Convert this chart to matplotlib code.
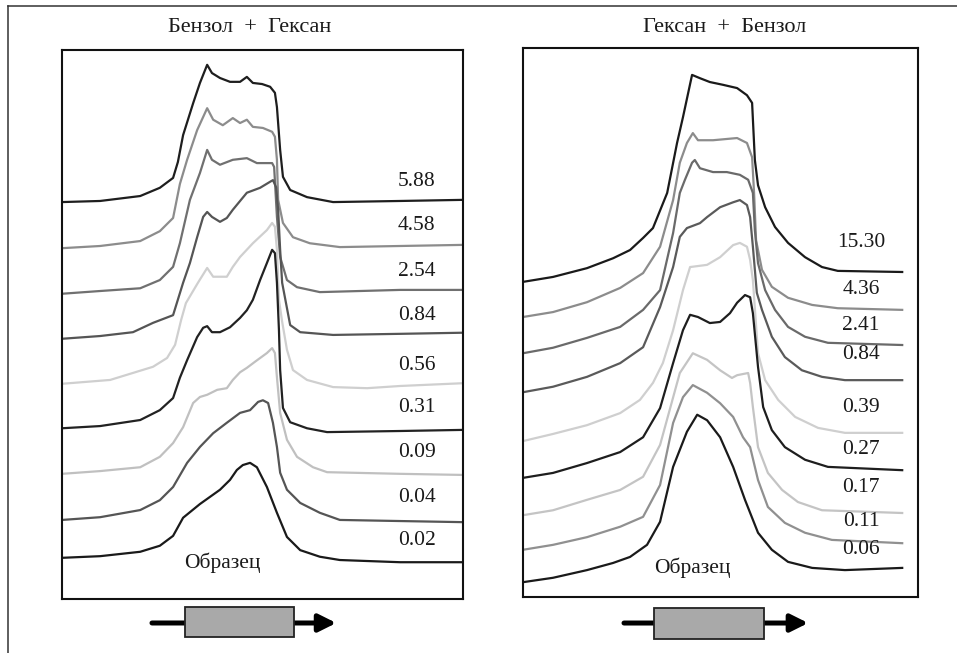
import matplotlib
matplotlib.use('Agg')
import matplotlib.pyplot as plt
from matplotlib.patches import Rectangle
from matplotlib.lines import Line2D

plt.rcParams['font.family'] = ['Liberation Serif', 'DejaVu Serif']

# left panel: Бензол + Гексан (position in % of window, signal in arbitrary units)
esq_x = [
    [0, 9.5, 19.5, 24.4, 27.7, 28.9, 30.2, 32.7, 34.4, 36.2, 37.4, 39.4, 41.9, 44.4, 46.1, 47.6, 49.9, 51.9, 53.1, 53.6, 54.4, 55.1, 56.9, 61.1, 67.6, 84.3, 99.8],
    [0, 9.5, 19.5, 24.4, 27.7, 29.4, 31.2, 33.7, 36.2, 37.7, 40.1, 42.6, 44.4, 46.1, 47.6, 50.1, 52.4, 53.1, 53.6, 53.9, 55.1, 57.6, 61.8, 69.3, 84.3, 99.8],
    [0, 9.5, 19.5, 24.4, 27.7, 29.4, 31.9, 34.4, 36.2, 37.4, 39.4, 42.6, 46.1, 48.6, 52.4, 52.9, 53.6, 54.4, 56.1, 58.6, 64.3, 84.3, 99.8],
    [0, 9.5, 17.7, 22.7, 27.7, 30.2, 31.9, 33.7, 35.2, 36.2, 37.4, 39.4, 41.1, 42.6, 46.1, 49.4, 51.9, 52.6, 53.4, 53.9, 54.4, 54.9, 56.9, 59.4, 67.6, 84.3, 99.8],
    [0, 12.0, 22.7, 26.2, 28.2, 29.7, 30.9, 33.9, 36.2, 37.7, 41.1, 42.6, 44.4, 47.6, 51.1, 52.4, 53.1, 53.6, 54.1, 54.9, 56.1, 57.6, 61.1, 67.6, 76.1, 84.3, 99.8],
    [0, 9.5, 19.5, 24.4, 27.7, 29.4, 31.2, 33.7, 35.2, 36.2, 37.4, 39.4, 41.9, 44.4, 46.1, 47.6, 49.4, 51.1, 52.4, 53.1, 53.6, 54.1, 54.4, 55.1, 56.9, 61.1, 66.1, 84.3, 99.8],
    [0, 9.5, 19.5, 24.4, 27.7, 30.2, 32.7, 34.4, 36.2, 38.7, 41.1, 42.6, 44.4, 46.1, 48.1, 51.1, 52.4, 53.1, 53.6, 54.4, 56.1, 58.6, 62.6, 66.1, 84.3, 99.8],
    [0, 9.5, 19.5, 24.4, 27.7, 31.2, 34.4, 37.7, 41.1, 44.4, 46.9, 48.9, 50.1, 51.4, 52.6, 53.6, 54.4, 56.1, 59.4, 64.3, 69.3, 84.3, 99.8],
    [0, 9.5, 19.5, 24.4, 27.7, 30.2, 34.4, 39.4, 41.9, 43.6, 45.1, 46.9, 48.6, 51.1, 53.6, 56.1, 59.4, 64.3, 69.3, 84.3, 99.8],
]
esq_y = [
    [72.3, 72.5, 73.4, 74.9, 76.7, 79.6, 84.5, 90.3, 94.0, 97.3, 95.8, 94.9, 94.2, 94.2, 95.1, 94.0, 93.8, 93.3, 92.2, 89.6, 81.8, 76.9, 74.5, 73.2, 72.3, 72.5, 72.7],
    [63.9, 64.3, 65.2, 67.0, 69.4, 75.6, 80.0, 85.4, 89.4, 87.3, 86.3, 87.6, 86.7, 87.3, 86.0, 85.8, 85.1, 84.2, 80.0, 72.7, 68.5, 65.9, 64.8, 64.1, 64.3, 64.5],
    [55.6, 56.1, 56.6, 58.1, 60.5, 64.8, 72.7, 77.6, 81.8, 80.0, 79.1, 80.0, 80.3, 79.4, 79.4, 78.7, 69.6, 62.3, 58.1, 56.8, 55.9, 56.3, 56.3],
    [47.4, 47.9, 48.6, 50.3, 51.7, 57.6, 61.2, 65.9, 69.6, 70.5, 69.6, 68.7, 69.4, 70.9, 74.0, 74.9, 76.0, 76.3, 75.0, 70.9, 63.6, 57.6, 49.9, 48.6, 48.1, 48.3, 48.5],
    [39.2, 39.9, 42.3, 43.9, 46.3, 50.8, 53.9, 57.6, 60.3, 58.7, 58.7, 60.5, 62.3, 64.8, 67.2, 68.5, 67.8, 63.6, 54.5, 50.5, 45.4, 41.7, 39.9, 38.6, 38.4, 38.8, 39.3],
    [31.1, 31.5, 32.6, 34.4, 36.6, 40.3, 43.5, 47.7, 49.4, 49.7, 48.6, 48.6, 49.5, 51.2, 52.6, 54.5, 58.1, 61.2, 63.6, 63.0, 57.6, 49.0, 41.7, 34.8, 32.2, 31.1, 30.4, 30.6, 30.8],
    [22.8, 23.3, 24.0, 25.9, 28.4, 31.3, 35.7, 36.8, 37.2, 38.1, 38.4, 39.9, 41.3, 42.1, 43.2, 44.8, 45.7, 44.8, 40.4, 33.9, 29.0, 25.9, 24.0, 23.1, 22.8, 22.6],
    [14.4, 14.9, 16.2, 18.0, 20.4, 24.8, 27.7, 30.2, 32.1, 33.9, 34.4, 35.9, 36.2, 35.7, 32.1, 27.7, 23.0, 19.9, 17.5, 15.7, 14.4, 14.2, 14.0],
    [7.5, 7.8, 8.6, 9.7, 11.5, 14.8, 17.3, 19.9, 21.7, 23.5, 24.4, 24.8, 24.0, 20.4, 15.7, 11.3, 8.9, 7.7, 7.1, 6.7, 6.7],
]
esq_rotulos = ['5.88', '4.58', '2.54', '0.84', '0.56', '0.31', '0.09', '0.04', '0.02']
esq_cores = ['#1e1e1e', '#8c8c8c', '#707070', '#555555', '#cfcfcf',
             '#222222', '#c0c0c0', '#555555', '#1a1a1a']

# right panel: Гексан + Бензол
dir_x = [
    [0, 7.6, 16.2, 22.8, 27.1, 30.4, 32.9, 36.5, 39.0, 40.5, 42.8, 44.8, 47.3, 50.6, 54.2, 56.7, 58.0, 58.7, 59.5, 61.3, 63.8, 67.1, 71.4, 75.7, 79.7, 96.0],
    [0, 7.6, 16.2, 24.6, 30.4, 34.7, 38.0, 39.7, 41.5, 43.0, 44.3, 48.1, 54.2, 56.7, 58.0, 58.5, 59.0, 60.5, 63.0, 67.1, 73.2, 79.7, 96.0],
    [0, 7.6, 16.2, 24.6, 30.4, 34.7, 38.0, 39.7, 41.0, 42.8, 43.5, 44.8, 48.1, 51.6, 54.9, 57.0, 58.2, 58.7, 59.5, 61.3, 63.8, 67.1, 71.4, 77.2, 96.0],
    [0, 7.6, 16.2, 24.6, 30.4, 34.7, 38.0, 39.7, 41.5, 44.8, 46.6, 49.9, 53.2, 54.9, 56.7, 57.5, 58.2, 59.2, 60.5, 63.0, 66.3, 70.6, 75.7, 81.5, 96.0],
    [0, 7.6, 16.2, 24.6, 29.6, 32.9, 35.4, 38.0, 40.5, 42.3, 46.6, 49.9, 53.2, 54.9, 56.7, 57.5, 58.2, 59.5, 61.3, 64.6, 68.9, 74.7, 81.5, 96.0],
    [0, 7.6, 16.2, 24.6, 30.4, 34.7, 38.0, 40.5, 42.3, 44.3, 47.3, 49.9, 52.4, 54.2, 56.2, 57.5, 58.2, 59.5, 60.8, 63.0, 66.3, 71.4, 77.2, 96.0],
    [0, 7.6, 16.2, 24.6, 30.4, 34.7, 39.7, 43.0, 46.6, 49.9, 52.9, 54.2, 57.0, 57.5, 58.2, 59.5, 62.0, 65.6, 69.6, 75.7, 96.0],
    [0, 7.6, 16.2, 24.6, 30.4, 34.7, 38.0, 40.5, 43.0, 46.6, 49.9, 53.2, 55.7, 57.5, 59.5, 62.0, 66.3, 71.4, 78.2, 96.0],
    [0, 7.6, 16.2, 22.8, 27.1, 31.4, 34.7, 38.0, 41.5, 44.1, 46.6, 49.9, 53.2, 56.2, 59.5, 63.0, 67.1, 73.2, 81.5, 96.0],
]
dir_y = [
    [57.4, 58.3, 59.9, 61.7, 63.2, 65.4, 67.2, 73.6, 82.7, 87.4, 95.1, 94.5, 93.8, 93.3, 92.7, 91.4, 90.0, 79.6, 75.0, 71.0, 67.4, 64.5, 61.9, 60.1, 59.4, 59.2],
    [51.0, 51.9, 53.7, 56.3, 59.0, 63.8, 72.3, 79.1, 82.7, 84.5, 83.2, 83.2, 83.6, 82.7, 80.1, 73.6, 65.0, 59.6, 56.5, 54.5, 53.2, 52.6, 52.3],
    [44.4, 45.4, 47.2, 49.2, 52.3, 55.9, 66.3, 73.6, 76.0, 79.1, 79.6, 78.1, 77.4, 77.4, 76.9, 76.0, 73.6, 66.8, 60.8, 55.9, 52.3, 49.2, 47.4, 46.3, 45.9],
    [37.3, 38.3, 40.1, 42.6, 45.5, 52.8, 60.1, 65.6, 67.2, 68.1, 69.2, 71.0, 71.9, 72.3, 71.4, 69.2, 63.8, 55.4, 52.3, 47.4, 43.7, 41.3, 40.1, 39.5, 39.5],
    [28.4, 29.7, 31.3, 33.5, 35.9, 39.0, 42.6, 48.6, 55.9, 60.1, 60.5, 61.9, 64.1, 64.5, 63.8, 61.4, 57.7, 44.4, 39.5, 35.9, 32.8, 30.8, 29.9, 29.9],
    [21.7, 22.6, 24.4, 26.4, 29.1, 34.4, 42.6, 48.6, 51.4, 51.0, 49.9, 50.1, 51.7, 53.6, 55.0, 54.6, 51.7, 41.9, 34.6, 30.4, 27.3, 25.0, 23.7, 23.1],
    [14.9, 15.8, 17.7, 19.5, 21.9, 27.7, 40.8, 44.4, 43.2, 41.3, 39.9, 40.4, 40.8, 39.0, 34.6, 27.3, 22.6, 19.5, 17.3, 15.8, 15.3],
    [8.6, 9.5, 10.9, 12.8, 14.6, 20.4, 31.7, 36.4, 38.6, 37.2, 35.3, 32.8, 29.1, 27.3, 21.3, 16.4, 13.5, 11.7, 10.4, 9.8],
    [2.7, 3.5, 4.9, 6.2, 7.3, 9.5, 13.7, 23.7, 30.1, 33.2, 32.2, 29.1, 23.7, 17.7, 11.7, 8.6, 6.4, 5.3, 4.9, 5.3],
]
dir_rotulos = ['15.30', '4.36', '2.41', '0.84', '0.39', '0.27', '0.17', '0.11', '0.06']
dir_cores = ['#1a1a1a', '#8c8c8c', '#6a6a6a', '#5a5a5a', '#cfcfcf',
             '#1e1e1e', '#c4c4c4', '#909090', '#1a1a1a']

# label placement (layout only)
esq_rot_y = [76.0, 68.1, 59.6, 51.7, 42.6, 34.8, 26.6, 18.4, 10.7]
dir_rot_y = [64.5, 56.1, 49.4, 44.1, 34.6, 26.8, 20.0, 13.8, 8.6]

fig = plt.figure(figsize=(9.57, 6.53), dpi=100)

# outer frame, only top and left edges visible
fig.add_artist(Line2D([8/957, 8/957], [0, 1 - 6/653], color='#333333', lw=1.1))
fig.add_artist(Line2D([8/957, 1], [1 - 6/653, 1 - 6/653], color='#333333', lw=1.1))


def painel(pos, xs, ys, rotulos, cores, rot_y, rot_x, titulo, tit_x, amostra_x, amostra_y, seta):
    ax = fig.add_axes(pos)
    for x, y, cor in zip(xs, ys, cores):
        ax.plot(x, y, color=cor, lw=1.6, solid_joinstyle='round')
    for rot, yy in zip(rotulos, rot_y):
        ax.text(rot_x, yy, rot, ha='center', va='center', fontsize=15.5, color='#1a1a1a')
    ax.text(amostra_x, amostra_y, 'Образец', ha='center', va='center', fontsize=15.5, color='#1a1a1a')
    ax.set_xlim(0, 100)
    ax.set_ylim(0, 100)
    ax.set_xticks([])
    ax.set_yticks([])
    for s in ax.spines.values():
        s.set_linewidth(1.5)
        s.set_color('#111111')
    fig.text(tit_x, 0.958, titulo, ha='center', va='center', fontsize=16, color='#1a1a1a')

    # flow arrow with column box underneath the axes
    x0, x1, bx0, bx1, ly, by0, by1 = seta
    ax.annotate('', xy=(x1, ly), xytext=(x0, ly), xycoords='axes fraction',
                textcoords='axes fraction', annotation_clip=False,
                arrowprops=dict(arrowstyle='-|>', lw=3.6, color='black',
                                mutation_scale=26, shrinkA=0, shrinkB=0))
    ax.add_patch(Rectangle((bx0, by0), bx1 - bx0, by1 - by0, transform=ax.transAxes,
                           facecolor='#a9a9a9', edgecolor='#222222', lw=1.3,
                           clip_on=False, zorder=5))
    return ax


painel([62/957, 1 - 599/653, 401/957, 549/653], esq_x, esq_y, esq_rotulos, esq_cores,
       esq_rot_y, 88.5, 'Бензол  +  Гексан', 250/957, 40.0, 6.6,
       (0.2244, 0.684, 0.3067, 0.5786, -0.0437, -0.0692, -0.0146))

painel([523/957, 1 - 597/653, 395/957, 549/653], dir_x, dir_y, dir_rotulos, dir_cores,
       dir_rot_y, 85.6, 'Гексан  +  Бензол', 725/957, 42.8, 5.3,
       (0.2557, 0.722, 0.3316, 0.6101, -0.0474, -0.0765, -0.020))

plt.savefig('out.png', dpi=100)
